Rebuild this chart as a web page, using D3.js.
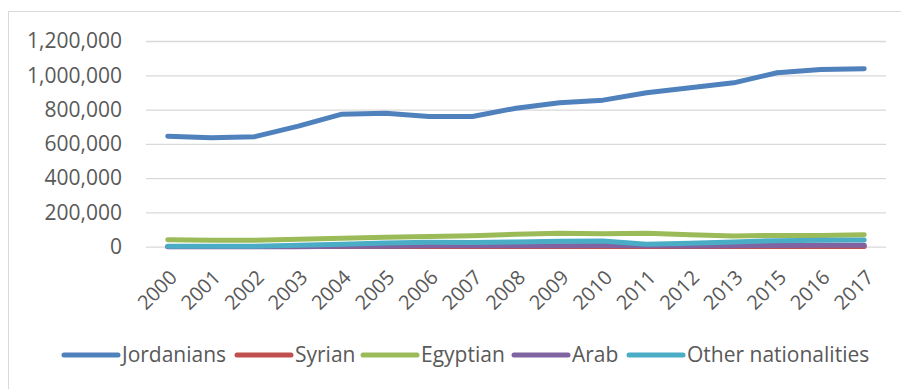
<!DOCTYPE html>
<html>
<head>
<meta charset="utf-8">
<script src="https://cdn.jsdelivr.net/npm/d3@7"></script>
<style>
  body { margin: 0; background: #fff; }
  text { font-family: "Open Sans", sans-serif; fill: #595959; }
</style>
</head>
<body>
<div id="chart"></div>
<script>
// categories
let years = ["2000", "2001", "2002", "2003", "2004", "2005", "2006", "2007", "2008",
             "2009", "2010", "2011", "2012", "2013", "2015", "2016", "2017"];

// series values
let jordanians = [645000, 636000, 642000, 703000, 773000, 778000, 760000, 760000, 808000,
                  840000, 855000, 898000, 927000, 956000, 1015000, 1034000, 1038000];
let syrian     = [1000, 1000, 1000, 1000, 1000, 1000, 1000, 1000, 1000,
                  1000, 1000, 1000, 1000, 1000, 1000, 1000, 1000];
let egyptian   = [41000, 37000, 37000, 43000, 49000, 55000, 60000, 64000, 72000,
                  78000, 75000, 78000, 70000, 62000, 66000, 65000, 70000];
let arab       = [0, 0, 0, 0, 2000, 3000, 5000, 5000, 6000,
                  6000, 7000, 5000, 4000, 5000, 7000, 8000, 8000];
let others     = [2000, 2000, 2000, 8000, 15000, 22000, 26000, 25000, 28000,
                  32000, 33000, 14000, 20000, 28000, 35000, 37000, 39000];

let seriesNames = ["Jordanians", "Syrian", "Egyptian", "Arab", "Other nationalities"];
let seriesColors = ["#4F81BD", "#C0504D", "#9BBB59", "#8064A2", "#4BACC6"];
let yTicks = [0, 200000, 400000, 600000, 800000, 1000000, 1200000];

let series = [jordanians, syrian, egyptian, arab, others];

const width = 901, height = 389;
const plot = {left: 146, right: 886, top: 41, bottom: 246.7};

let svg = d3.select("#chart").append("svg")
    .attr("width", width)
    .attr("height", height);

// chart border
svg.append("rect")
    .attr("x", 8.5).attr("y", 11.5)
    .attr("width", 900).attr("height", 390)
    .attr("fill", "none")
    .attr("stroke", "#D9D9D9");

let xScale = d3.scalePoint()
    .domain(years)
    .range([plot.left, plot.right])
    .padding(0.5);

let yScale = d3.scaleLinear()
    .domain([0, 1200000])
    .range([plot.bottom, plot.top]);

// gridlines + y labels
let yAxis = svg.append("g")
    .attr("transform", "translate(" + plot.left + ",0)")
    .call(d3.axisLeft(yScale)
        .tickValues(yTicks)
        .tickSize(-(plot.right - plot.left))
        .tickPadding(24)
        .tickFormat(d3.format(",")));
yAxis.select(".domain").remove();
yAxis.selectAll(".tick line").attr("stroke", "#D9D9D9").attr("stroke-width", 1.3);
yAxis.selectAll(".tick text")
    .attr("font-size", 21)
    .style("font-family", "'Open Sans', sans-serif")
    .attr("fill", "#595959");

// x labels, rotated
let xAxis = svg.append("g")
    .attr("transform", "translate(0," + plot.bottom + ")")
    .call(d3.axisBottom(xScale).tickSize(0).tickPadding(0));
xAxis.select(".domain").remove();
xAxis.selectAll(".tick text")
    .attr("font-size", 20)
    .style("font-family", "'Open Sans', sans-serif")
    .attr("fill", "#595959")
    .attr("text-anchor", "end")
    .attr("dy", null)
    .attr("y", 0)
    .attr("transform", "translate(10,32) rotate(-45)");

// lines
let line = d3.line()
    .x((d, i) => xScale(years[i]))
    .y(d => yScale(d));

svg.append("g").selectAll("path")
    .data(series)
    .enter().append("path")
    .attr("d", d => line(d))
    .attr("fill", "none")
    .attr("stroke", (d, i) => seriesColors[i])
    .attr("stroke-width", 5)
    .attr("stroke-linejoin", "round")
    .attr("stroke-linecap", "round");

// legend
let legendX = [64, 237, 363, 514, 629];
let legend = svg.append("g").selectAll("g")
    .data(seriesNames)
    .enter().append("g")
    .attr("transform", (d, i) => "translate(" + legendX[i] + ",355)");

legend.append("line")
    .attr("x1", 0).attr("x2", 54)
    .attr("stroke", (d, i) => seriesColors[i])
    .attr("stroke-width", 5)
    .attr("stroke-linecap", "round");

legend.append("text")
    .attr("x", 58)
    .attr("dy", "0.35em")
    .attr("font-size", 21)
    .text(d => d);
</script>
</body>
</html>
